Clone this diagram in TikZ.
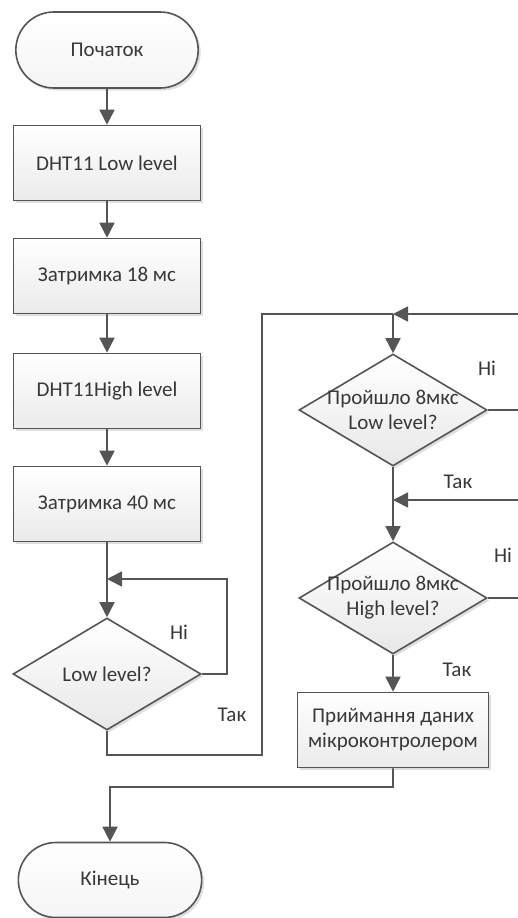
\documentclass[tikz,border=0pt]{standalone}
\usepackage{fontspec}
\setmainfont{Carlito}
\usetikzlibrary{arrows.meta,shapes.geometric,shapes.misc,shadows}
\definecolor{ln}{HTML}{555555}
\definecolor{tx}{HTML}{383838}
\begin{document}
\begin{tikzpicture}[x=1pt,y=-1pt,
  font=\fontsize{21}{25}\selectfont,
  base/.style={draw=ln, line width=1.6pt, text=tx, align=center},
  shad/.style={drop shadow={opacity=0.25, shadow xshift=2.5pt, shadow yshift=-2.5pt}},
  procbox/.style={base, shad, rectangle, minimum width=187pt, minimum height=75pt, top color=white, bottom color=gray!16},
  termbox/.style={base, shad, rounded rectangle, minimum width=189pt, minimum height=76pt, top color=white, bottom color=gray!8},
  decbox/.style={base, shad, diamond, minimum width=188pt, minimum height=112pt, inner sep=0pt, top color=white, bottom color=gray!18},
  conn/.style={draw=ln, line width=1.6pt},
  arr/.style={conn, -{Triangle[length=15pt,width=15pt]}},
  lbl/.style={text=tx}]
\useasboundingbox (0,0) rectangle (518,918);
\fill[white] (0,0) rectangle (518,918);

\node[termbox] (st) at (107,50) {Початок};
\node[procbox] (b1) at (107,163) {DHT11 Low level};
\node[procbox] (b2) at (107,276) {Затримка 18 мс};
\node[procbox] (b3) at (107,391) {DHT11High level};
\node[procbox] (b4) at (107,504) {Затримка 40 мс};
\node[decbox] (d1) at (107,674) {};
\node[text=tx] (d1t) at (107,674) {Low level?};

\node[decbox] (d2) at (393,410) {};
\node[text=tx, align=center] (d2t) at (393,410) {Пройшло 8мкс\\Low level?};
\node[decbox] (d3) at (393,598) {};
\node[text=tx, align=center] (d3t) at (393,598) {Пройшло 8мкс\\High level?};
\node[procbox, minimum width=191pt] (b5) at (393,730) {Приймання даних\\мікроконтролером};
\node[termbox, minimum width=190pt, minimum height=75pt] (en) at (110,880) {Кінець};

\node[lbl] (l1) at (179,632) {Ні};
\node[lbl] (l2) at (232,715) {Так};
\node[lbl] (l3) at (487,368) {Ні};
\node[lbl] (l4) at (458,482) {Так};
\node[lbl] (l5) at (503,555) {Ні};
\node[lbl] (l6) at (457,670) {Так};

\draw[arr] (st) -- (b1);
\draw[arr] (b1) -- (b2);
\draw[arr] (b2) -- (b3);
\draw[arr] (b3) -- (b4);
\draw[arr] (b4) -- (d1);

\coordinate (m1) at (107,579);
\coordinate (lp1) at (227,579);
\draw[arr] (d1.east) -| (lp1) -- (m1);

\coordinate (t1) at (262,755);
\coordinate (j1) at (393,314);
\draw[conn] (d1.south) |- (t1) |- (j1);
\draw[arr] (j1) -- (d2);
\coordinate (e1) at (518,314);
\draw[arr] (e1) -- (j1);
\coordinate (e2) at (518,410);
\draw[conn] (d2.east) -- (e2);

\coordinate (j2) at (393,500);
\draw[conn] (d2.south) -- (j2);
\draw[arr] (j2) -- (d3);
\coordinate (e3) at (518,500);
\draw[arr] (e3) -- (j2);
\coordinate (e4) at (518,598);
\draw[conn] (d3.east) -- (e4);

\draw[arr] (d3) -- (b5);
\coordinate (k1) at (110,787);
\draw[arr] (b5.south) |- (k1) -- (en);
\end{tikzpicture}
\end{document}
